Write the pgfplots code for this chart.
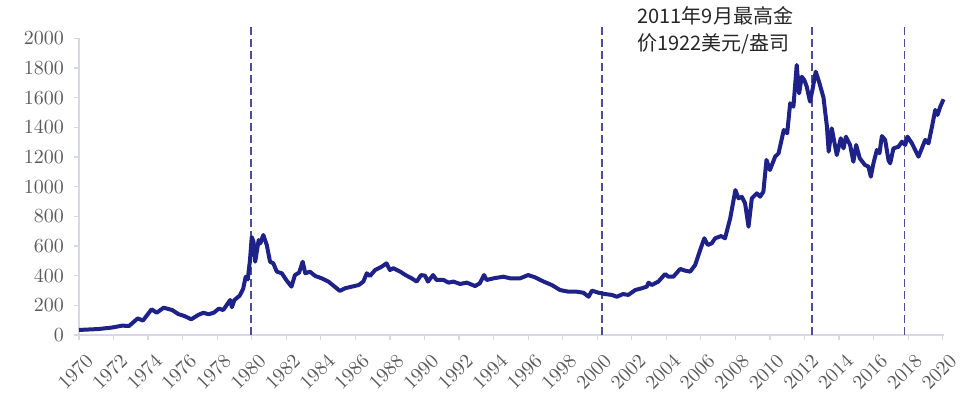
\documentclass[border=0pt]{standalone}
\usepackage{pgfplots}
\pgfplotsset{compat=1.18}
\usepackage{fontspec}
\newfontfamily\cjk{Noto Sans CJK SC}
\definecolor{goldline}{HTML}{1E2187}
\definecolor{dashc}{HTML}{4A4E9A}
\definecolor{axc}{HTML}{D8D8E2}
\definecolor{tickc}{HTML}{5A5A5A}
\begin{document}
\begin{tikzpicture}
\path[use as bounding box] (-39.5pt,-30.5pt) rectangle (443pt,167.5pt);
\begin{axis}[
  scale only axis,
  width=432.7pt, height=148.35pt,
  xmin=1970, xmax=2020.1,
  ymin=0, ymax=2000,
  clip=false,
  axis x line*=bottom, axis y line*=left,
  axis line style={axc, line width=0.6pt, -},
  xtick={1970,1972,...,2020},
  ytick={0,200,...,2000},
  tick align=outside,
  major tick length=2.5pt,
  tick style={axc, line width=0.6pt},
  x tick label style={/pgf/number format/1000 sep={}},
  y tick label style={/pgf/number format/1000 sep={}},
  xticklabel style={xshift=3pt, yshift=-5.5pt, rotate=45, anchor=north east, font=\fontsize{10.3}{12}\selectfont, text=tickc, inner sep=0.5pt},
  yticklabel style={font=\fontsize{10.3}{12}\selectfont, text=tickc, xshift=-1.5pt},
]
\addplot[dashc, line width=0.8pt, dash pattern=on 4pt off 2pt] coordinates {(1979.95,0) (1979.95,2100)};
\addplot[dashc, line width=0.8pt, dash pattern=on 4pt off 2pt] coordinates {(2000.27,0) (2000.27,2100)};
\addplot[dashc, line width=0.8pt, dash pattern=on 4pt off 2pt] coordinates {(2012.42,0) (2012.42,2100)};
\addplot[dashc, line width=0.8pt, dash pattern=on 4pt off 2pt] coordinates {(2017.8,0) (2017.8,2100)};
\addplot[goldline, line width=2pt, line join=round] coordinates {
(1970.0,34) (1971.1,40) (1971.9,50) (1972.5,63) (1972.9,61) (1973.4,112) (1973.7,97)
(1974.2,173) (1974.5,150) (1974.9,184) (1975.4,168) (1975.75,141) (1976.1,128) (1976.5,106)
(1976.9,135) (1977.2,150) (1977.5,140) (1977.8,150) (1978.1,178) (1978.35,168) (1978.75,236)
(1978.85,187) (1979.0,236) (1979.3,265) (1979.5,310) (1979.65,393) (1979.77,375) (1979.9,506)
(1980.0,660) (1980.1,630) (1980.2,494) (1980.4,640) (1980.5,618) (1980.67,674) (1980.87,607)
(1981.06,494) (1981.25,483) (1981.45,427) (1981.74,416) (1982.0,371) (1982.3,326) (1982.5,404)
(1982.74,420) (1982.95,494) (1983.1,416) (1983.37,427) (1983.67,398) (1984.05,382) (1984.44,360)
(1984.8,326) (1985.1,297) (1985.4,315) (1985.8,326) (1986.2,337) (1986.46,360) (1986.66,416)
(1986.85,398) (1987.14,438) (1987.53,461) (1987.8,483) (1988.0,438) (1988.2,450) (1988.6,427)
(1988.9,404) (1989.26,382) (1989.55,360) (1989.8,404) (1990.03,400) (1990.2,360) (1990.5,404)
(1990.7,371) (1991.1,371) (1991.4,353) (1991.67,360) (1992.06,344) (1992.45,353) (1992.93,330)
(1993.2,348) (1993.45,404) (1993.6,371) (1994.0,382) (1994.57,393) (1994.96,382) (1995.54,382)
(1996.0,404) (1996.4,389) (1996.9,360) (1997.37,337) (1997.85,303) (1998.33,292) (1998.8,292)
(1999.2,285) (1999.5,258) (1999.7,299) (2000.07,285) (2000.46,276) (2000.85,270) (2001.13,258)
(2001.5,276) (2001.8,270) (2002.2,303) (2002.58,315) (2002.87,326) (2002.97,353) (2003.16,337)
(2003.54,360) (2003.93,411) (2004.12,393) (2004.41,393) (2004.8,445) (2005.09,434) (2005.38,427)
(2005.67,472) (2005.96,573) (2006.2,652) (2006.4,607) (2006.63,618) (2006.83,652) (2007.17,667)
(2007.4,652) (2007.7,787) (2008.0,977) (2008.18,921) (2008.37,932) (2008.56,888) (2008.76,730)
(2008.95,921) (2009.24,955) (2009.43,932) (2009.62,966) (2009.8,1180) (2010.0,1112) (2010.3,1202)
(2010.5,1225) (2010.8,1382) (2011.0,1360) (2011.17,1562) (2011.36,1539) (2011.55,1820) (2011.69,1629)
(2011.84,1741) (2011.99,1719) (2012.13,1674) (2012.32,1573) (2012.46,1652) (2012.65,1775) (2012.84,1708)
(2013.1,1600) (2013.3,1404) (2013.4,1236) (2013.58,1393) (2013.87,1213) (2014.1,1326) (2014.26,1258)
(2014.4,1337) (2014.64,1281) (2014.83,1168) (2014.99,1281) (2015.2,1191) (2015.5,1146) (2015.7,1135)
(2015.84,1067) (2015.99,1157) (2016.19,1247) (2016.34,1225) (2016.48,1341) (2016.67,1315) (2016.86,1180)
(2016.96,1157) (2017.15,1258) (2017.44,1269) (2017.64,1303) (2017.83,1281) (2017.96,1337) (2018.22,1292)
(2018.6,1202) (2018.99,1315) (2019.18,1292) (2019.38,1404) (2019.57,1517) (2019.7,1483) (2019.86,1539)
(2020.05,1589)
};
\node[anchor=north west, align=left, inner sep=0pt, font=\cjk\fontsize{10}{13.5}\selectfont, text=black!85]
  at (axis cs:2002.31,2215) {2011年9月最高金\\价1922美元/盎司};
\end{axis}
\end{tikzpicture}
\end{document}
